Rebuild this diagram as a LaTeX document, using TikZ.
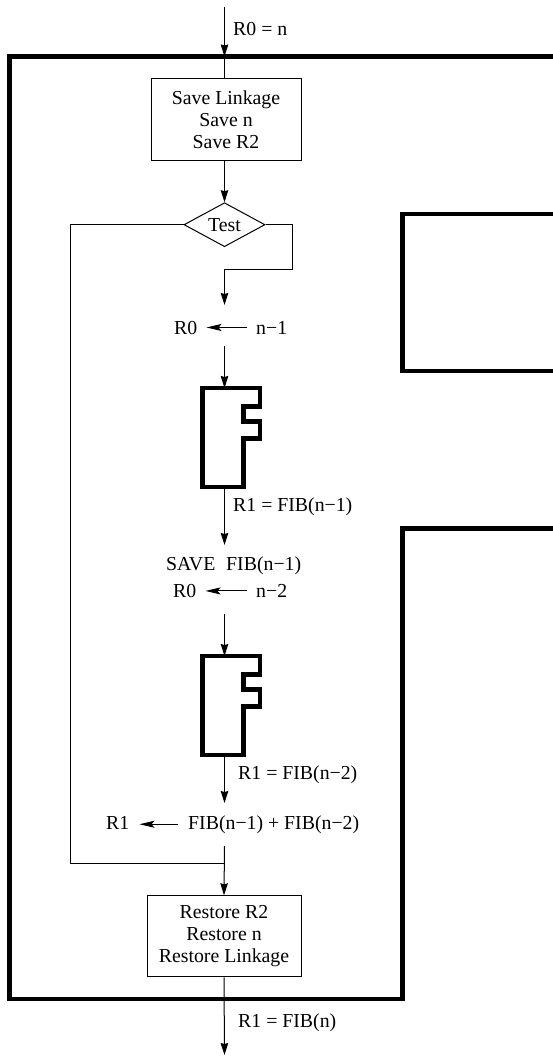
\documentclass[tikz,border=0pt]{standalone}
\usepackage{fontspec}
\setmainfont{Liberation Serif}
\usetikzlibrary{arrows.meta,shapes.geometric}
\tikzset{
  txt/.style={font=\fontsize{19.8}{22.5}\selectfont, inner sep=0pt, anchor=base west},
  box/.style={draw, line width=1pt, align=center, inner sep=0pt,
              font=\fontsize{19.8}{22}\selectfont},
  thin/.style={line width=1pt},
  fat/.style={line width=4.5pt, line join=miter, line cap=rect},
  arr/.style={thin, -{Stealth[length=12pt,width=7.5pt,inset=1pt]}},
  harr/.style={thin, -{Stealth[length=15pt,width=7pt,inset=3pt]}},
  fib/.pic={
    \draw[fat] (-22.2,0) -- (35.5,0) -- (35.5,18.7) -- (18.8,18.7) -- (18.8,33.7)
      -- (35.5,33.7) -- (35.5,50.7) -- (18.8,50.7) -- (18.8,99) -- (-22.2,99) -- cycle;
  }
}
\begin{document}
\begin{tikzpicture}[x=1pt,y=-1pt]
\useasboundingbox (0,0) rectangle (553,1056);
\fill[white] (0,0) rectangle (553,1056);
% big F outline (clipped at the right edge)
\begin{scope}
  \clip (0,0) rectangle (553,1056);
  \draw[fat] (570,56.5) -- (9.5,56.5) -- (9.5,999) -- (402.5,999) -- (402.5,528.5) -- (570,528.5);
  \draw[fat] (570,214) -- (402.5,214) -- (402.5,371) -- (570,371);
\end{scope}

% coordinates on the main axis
\coordinate (in) at (224.5,7);
\coordinate (topentry) at (224.5,56.5);
\coordinate (a1) at (224.5,305);
\coordinate (b1) at (224.5,346);
\coordinate (f1top) at (224.5,388);
\coordinate (f1bot) at (224.5,487);
\coordinate (c1) at (224.5,545);
\coordinate (b2) at (224.5,614);
\coordinate (f2top) at (224.5,656);
\coordinate (f2bot) at (224.5,755);
\coordinate (c2) at (224.5,803);
\coordinate (d1) at (224.5,846);
\coordinate (join) at (224.5,863.7);
\coordinate (out) at (224.5,1055);
\coordinate (lfar) at (70,224.7);
\coordinate (ljoin) at (70,863.7);
\coordinate (rfar) at (292.7,224.7);
\coordinate (rdown) at (292.7,269.3);
\coordinate (rback) at (224.5,269.3);

% boxes
\node[box, minimum width=150pt, minimum height=82pt] (save) at (226,120)
  {Save Linkage\\Save n\\Save R2};
\node[box, diamond, aspect=1.84, minimum width=81pt, minimum height=44pt] (test) at (224.5,224.7) {Test};
\node[box, minimum width=154pt, minimum height=81pt] (restore) at (224,936.3)
  {Restore R2\\Restore n\\Restore Linkage};

% recursive calls
\pic at (f1top) {fib};
\pic at (f2top) {fib};

% labels
\node[txt] (lin) at (233,36) {R0 = n};
\node[txt] (r0a) at (174,334) {R0};
\node[txt] (n1) at (256,334) {n−1};
\node[txt] (fib1) at (233,511.5) {R1 = FIB(n−1)};
\node[txt] (savefib) at (166,570) {SAVE\hspace{0.3em} FIB(n−1)};
\node[txt] (r0b) at (173,597.5) {R0};
\node[txt] (n2) at (256,597.5) {n−2};
\node[txt] (fib2) at (238,779.5) {R1 = FIB(n−2)};
\node[txt] (r1) at (106,829) {R1};
\node[txt] (sum) at (188,829) {FIB(n−1) + FIB(n−2)};
\node[txt] (fibn) at (238,1027.7) {R1 = FIB(n)};

% connectors
\draw[arr] (in) -- (topentry);
\draw[thin] (topentry) -- (topentry |- save.north);
\draw[arr] (save.south -| test.north) -- (test.north);
\draw[thin] (test.west) -- (lfar) -- (ljoin) -- (join);
\draw[arr] (test.east) -- (rfar) -- (rdown) -- (rback) -- (a1);
\draw[harr, shorten <=9pt, shorten >=9pt] (n1.west) -- (r0a.east |- n1.west);
\draw[arr] (b1) -- (f1top);
\draw[arr] (f1bot) -- (c1);
\draw[harr, shorten <=9pt, shorten >=9pt] (n2.west) -- (r0b.east |- n2.west);
\draw[arr] (b2) -- (f2top);
\draw[arr] (f2bot) -- (c2);
\draw[harr, shorten <=10pt, shorten >=10pt] (sum.west) -- (r1.east |- sum.west);
\draw[arr] (d1) -- (restore.north);
\draw[arr] (restore.south) -- (out);
\end{tikzpicture}
\end{document}
